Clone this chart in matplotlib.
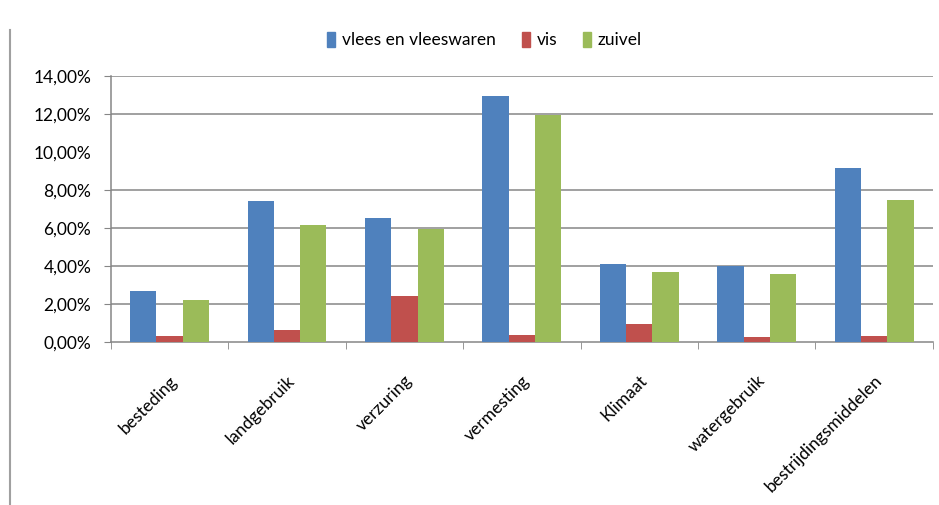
import numpy as np
import matplotlib.pyplot as plt
from matplotlib.lines import Line2D
from matplotlib.patches import Patch

plt.rcParams['font.family'] = ['Lato', 'DejaVu Sans']

categories = ['besteding', 'landgebruik', 'verzuring', 'vermesting',
              'Klimaat', 'watergebruik', 'bestrijdingsmiddelen']
vlees = [2.68, 7.42, 6.53, 12.96, 4.10, 4.00, 9.16]
vis = [0.32, 0.63, 2.42, 0.37, 0.95, 0.27, 0.32]
zuivel = [2.20, 6.16, 5.95, 11.96, 3.68, 3.58, 7.47]
series = [('vlees en vleeswaren', vlees, '#4f81bd'),
          ('vis', vis, '#c0504d'),
          ('zuivel', zuivel, '#9bbb59')]
yticks = [0, 2, 4, 6, 8, 10, 12, 14]

fig = plt.figure(figsize=(9.39, 5.05), dpi=100)
ax = fig.add_axes([0.118, 0.3228, 0.8755, 0.5267])

x = np.arange(len(categories))
w = 0.224
for i, (name, vals, col) in enumerate(series):
    ax.bar(x + (i - 1) * w, vals, width=w, color=col, zorder=3)

ax.set_xlim(-0.5, len(categories) - 0.5)
ax.set_ylim(0, 14)
ax.set_yticks(yticks)
ax.set_yticklabels([f'{v:.2f}%'.replace('.', ',') for v in yticks], fontsize=12.5)

grid_col = '#868686'
for v in yticks[1:]:
    if v == 10:
        continue
    ax.axhline(v, color=grid_col, lw=1.1, zorder=1)

ax.set_xticks(x)
ax.set_xticklabels(categories, rotation=45, ha='right', rotation_mode='anchor',
                   fontsize=12.5)
ax.tick_params(axis='x', length=0, pad=22)
ax.set_xticks(np.arange(len(categories) + 1) - 0.5, minor=True)
ax.tick_params(axis='x', which='minor', length=5, color=grid_col)
ax.tick_params(axis='y', length=5, color=grid_col, pad=9)
# hide the tick mark at 10%
ax.yaxis.get_major_ticks()[5].tick1line.set_visible(False)

for s in ['top', 'right']:
    ax.spines[s].set_visible(False)
for s in ['left', 'bottom']:
    ax.spines[s].set_color(grid_col)
    ax.spines[s].set_linewidth(1.1)

handles = [Patch(color=c, label=n) for n, _, c in series]
fig.legend(handles=handles, loc='center', bbox_to_anchor=(0.516, 0.921),
           ncol=3, frameon=False, fontsize=12.5, handlelength=0.45,
           handleheight=1.0, handletextpad=0.4, columnspacing=1.5)

fig.add_artist(Line2D([0.0107, 0.0107], [0.0, 0.94], color='#a0a0a0', lw=1.5,
                      transform=fig.transFigure))

fig.savefig('out.png', dpi=100)
